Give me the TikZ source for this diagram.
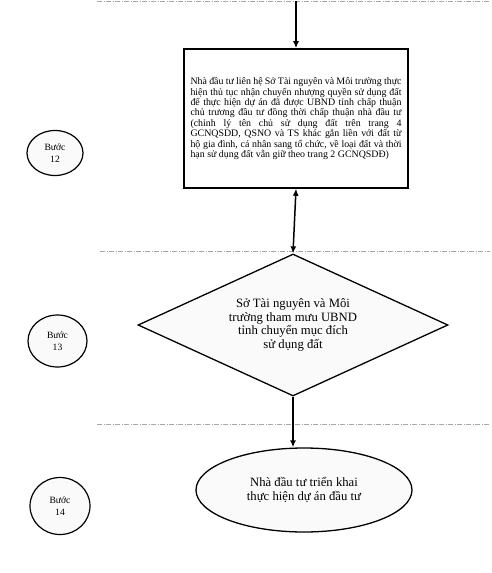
\documentclass[tikz,border=0pt]{standalone}
\usepackage{fontspec}
\setmainfont{Liberation Serif}
\usetikzlibrary{arrows.meta,positioning,shapes.geometric}

\begin{document}
\begin{tikzpicture}[x=1pt, y=-1pt,
  mainbox/.style={draw, line width=1.6pt, fill=white,
                  minimum width=224pt, minimum height=139pt,
                  text width=211pt, inner sep=0pt,
                  font=\fontsize{9.9}{10.4}\selectfont, align=justify},
  dia/.style={draw, diamond, shape aspect=2.2, line width=1.3pt, fill=gray!4,
              minimum width=310pt, minimum height=142pt, inner sep=0pt,
              font=\fontsize{12.7}{13.6}\selectfont, align=center},
  endell/.style={draw, ellipse, line width=1.3pt, fill=gray!4,
                 minimum width=216pt, minimum height=84pt,
                 font=\fontsize{12.7}{13.6}\selectfont, align=center},
  stepell/.style={draw, ellipse, line width=1.2pt, fill=gray!4, inner sep=0pt,
                  font=\fontsize{9.6}{11.7}\selectfont, align=center},
  sep/.style={gray!70, line width=0.5pt,
              dash pattern=on 5pt off 1.5pt on 1pt off 1.5pt},
  arr/.style={-{Latex[length=7pt,width=6pt]}, line width=1.5pt},
  darr/.style={{Latex[length=7pt,width=6pt]}-{Latex[length=7pt,width=6pt]}, line width=1.5pt}
]
\useasboundingbox (0,0) rectangle (492,573);

%% Separators between steps
\coordinate (s1a) at (97,1);   \coordinate (s1b) at (490,1);
\coordinate (s2a) at (100,251); \coordinate (s2b) at (490,251);
\coordinate (s3a) at (97,424);  \coordinate (s3b) at (490,424);
\draw[sep] (s1a) -- (s1b);
\draw[sep] (s2a) -- (s2b);
\draw[sep] (s3a) -- (s3b);

%% Step 12
\node[mainbox] (contact) at (296,118.5) {Nhà đầu tư liên hệ Sở Tài nguyên và Môi trường thực\linebreak hiện thủ tục nhận chuyển nhượng quyền sử dụng đất\linebreak để thực hiện dự án đã được UBND tỉnh chấp thuận\linebreak chủ trương đầu tư đồng thời chấp thuận nhà đầu tư\linebreak (chỉnh lý tên chủ sử dụng đất trên trang 4\linebreak GCNQSDD, QSNO và TS khác gắn liền với đất từ\linebreak hộ gia đình, cá nhân sang tổ chức, về loại đất và thời\linebreak hạn sử dụng đất vẫn giữ theo trang 2 GCNQSDĐ)};
\coordinate (in) at (contact.north |- s1a);
\draw[arr] (in) -- (contact.north);
\node[stepell, minimum width=56pt, minimum height=45pt] (b12) at (55,153) {Bước\\12};

%% Step 13
\node[dia] (advise) at (293,325) {Sở Tài nguyên và Môi\\trường tham mưu UBND\\tỉnh chuyển mục đích\\sử dụng đất};
\draw[darr] (contact.south) -- (advise.north);
\node[stepell, minimum width=59pt, minimum height=52pt] (b13) at (57.5,341) {Bước\\13};

%% Step 14
\node[endell] (deploy) at (304,490) {Nhà đầu tư triển khai\\thực hiện dự án đầu tư};
\draw[arr] (advise.south) -- (advise.south |- deploy.north);
\node[stepell, minimum width=60pt, minimum height=57pt] (b14) at (60,506) {Bước\\14};
\end{tikzpicture}
\end{document}
